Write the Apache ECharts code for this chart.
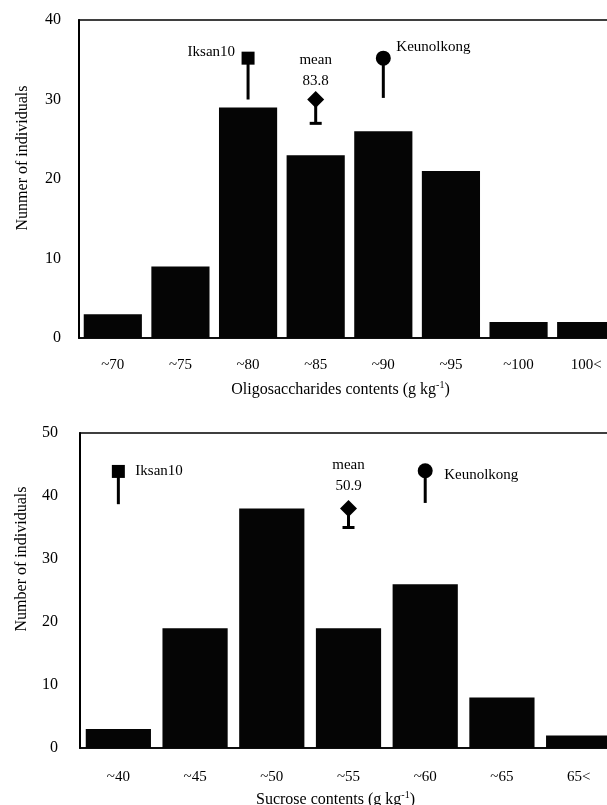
<!DOCTYPE html>
<html>
<head>
<meta charset="utf-8">
<script src="https://cdn.jsdelivr.net/npm/echarts@6/dist/echarts.min.js"></script>
<style>
html,body{margin:0;padding:0;background:#fff;overflow:hidden;}
#chart{width:640px;height:805px;}
</style>
</head>
<body>
<div id="chart"></div>
<script>
// ---- Data ----
const oligoCategories = ['~70', '~75', '~80', '~85', '~90', '~95', '~100', '100<'];
const oligoCounts = [3, 9, 29, 23, 26, 21, 2, 2];
const oligoMarkerNames = ['Iksan10', 'mean', 'Keunolkong'];
const oligoMarkerCategories = ['~80', '~85', '~90'];
const oligoMarkerTops = [35.2, 30, 35.2];
const oligoMarkerBases = [30, 27, 30.2];
const oligoMean = '83.8';
const oligoYTicks = [0, 10, 20, 30, 40];

const sucroseCategories = ['~40', '~45', '~50', '~55', '~60', '~65', '65<'];
const sucroseCounts = [3, 19, 38, 19, 26, 8, 2];
const sucroseMarkerNames = ['Iksan10', 'mean', 'Keunolkong'];
const sucroseMarkerCategories = ['~40', '~55', '~60'];
const sucroseMarkerTops = [43.9, 38, 44];
const sucroseMarkerBases = [38.7, 35, 38.9];
const sucroseMean = '50.9';
const sucroseYTicks = [0, 10, 20, 30, 40, 50];

// ---- Styling ----
const FONT = "'Liberation Serif', 'Times New Roman', serif";
const INK = '#000';

function markerData(cats, tops, bases) {
  return cats.map((c, i) => [c, tops[i], bases[i], i]);
}

function makeRenderItem(labelPlacement, names, meanText) {
  const kinds = ['square', 'diamond', 'circle'];
  return function (params, api) {
    const idx = api.value(3);
    const kind = kinds[idx];
    const cat = api.value(0);
    const pTop = api.coord([cat, api.value(1)]);
    const pBase = api.coord([cat, api.value(2)]);
    const cx = pTop[0], cy = pTop[1];
    const children = [];
    children.push({
      type: 'line',
      shape: { x1: cx, y1: cy, x2: cx, y2: pBase[1] },
      style: { stroke: INK, lineWidth: 3 }
    });
    if (kind === 'square') {
      children.push({ type: 'rect', shape: { x: cx - 6.5, y: cy - 6.5, width: 13, height: 13 }, style: { fill: INK } });
    } else if (kind === 'circle') {
      children.push({ type: 'circle', shape: { cx: cx, cy: cy, r: 7.5 }, style: { fill: INK } });
    } else {
      children.push({
        type: 'polygon',
        shape: { points: [[cx, cy - 8.5], [cx + 8.5, cy], [cx, cy + 8.5], [cx - 8.5, cy]] },
        style: { fill: INK }
      });
      children.push({
        type: 'line',
        shape: { x1: cx - 6, y1: pBase[1], x2: cx + 6, y2: pBase[1] },
        style: { stroke: INK, lineWidth: 3 }
      });
    }
    const pl = labelPlacement[kind];
    const name = names[params.dataIndex];
    const text = kind === 'diamond' ? name + '\n' + meanText : name;
    children.push({
      type: 'text',
      style: {
        text: text,
        x: cx + pl.dx,
        y: cy + pl.dy,
        align: pl.align,
        verticalAlign: pl.va,
        font: '15px ' + FONT,
        lineHeight: 21,
        fill: INK
      }
    });
    return { type: 'group', children: children };
  };
}

const topPlacement = {
  square: { dx: -13, dy: -6, align: 'right', va: 'middle' },
  circle: { dx: 13, dy: -11, align: 'left', va: 'middle' },
  diamond: { dx: 0, dy: -7.5, align: 'center', va: 'bottom' }
};
const bottomPlacement = {
  square: { dx: 17, dy: 0, align: 'left', va: 'middle' },
  circle: { dx: 19, dy: 4, align: 'left', va: 'middle' },
  diamond: { dx: 0, dy: -12.5, align: 'center', va: 'bottom' }
};

function xAxisCfg(gridIndex, cats, nameMain, labelMargin, nameGap, shiftLeft) {
  return {
    type: 'category',
    gridIndex: gridIndex,
    data: cats,
    axisLine: { show: true, lineStyle: { color: INK, width: 1.5 } },
    axisTick: { show: false },
    axisLabel: { color: INK, fontFamily: FONT, fontSize: 15, margin: labelMargin, interval: 0 },
    name: '{a|' + nameMain + ' (g kg}{s|-1}{a|)}',
    nameLocation: 'middle',
    nameGap: nameGap,
    nameTextStyle: {
      padding: [0, shiftLeft * 2, 0, 0],
      rich: {
        a: { fontFamily: FONT, fontSize: 16, color: INK },
        s: { fontFamily: FONT, fontSize: 10, color: INK, padding: [0, 0, 9, 0] }
      }
    }
  };
}

function yAxisCfg(gridIndex, ticks, margin) {
  return {
    type: 'value',
    gridIndex: gridIndex,
    min: ticks[0],
    max: ticks[ticks.length - 1],
    interval: ticks[1] - ticks[0],
    axisLine: { show: true, lineStyle: { color: INK, width: 2 } },
    axisTick: { show: false },
    splitLine: { show: false },
    axisLabel: { color: INK, fontFamily: FONT, fontSize: 16, margin: margin }
  };
}

const chart = echarts.init(document.getElementById('chart'), null, { renderer: 'canvas' });
chart.setOption({
  backgroundColor: '#fff',
  animation: false,
  grid: [
    { left: 79, top: 20, width: 541, height: 318, show: true, borderColor: INK, borderWidth: 1.5,
      backgroundColor: 'transparent', outerBoundsMode: 'none', containLabel: false },
    { left: 80, top: 433, width: 537, height: 315, show: true, borderColor: INK, borderWidth: 1.5,
      backgroundColor: 'transparent', outerBoundsMode: 'none', containLabel: false }
  ],
  xAxis: [
    xAxisCfg(0, oligoCategories, 'Oligosaccharides contents', 20, 42, 9),
    xAxisCfg(1, sucroseCategories, 'Sucrose contents', 22, 42, 13)
  ],
  yAxis: [
    yAxisCfg(0, oligoYTicks, 18),
    yAxisCfg(1, sucroseYTicks, 22)
  ],
  graphic: [
    { type: 'text', x: 23, y: 158, rotation: Math.PI / 2,
      style: { text: 'Nunmer of individuals', font: '16px ' + FONT, fill: INK, align: 'center', verticalAlign: 'middle' } },
    { type: 'text', x: 22, y: 559, rotation: Math.PI / 2,
      style: { text: 'Number of individuals', font: '16px ' + FONT, fill: INK, align: 'center', verticalAlign: 'middle' } }
  ],
  series: [
    { type: 'bar', xAxisIndex: 0, yAxisIndex: 0, data: oligoCounts, barCategoryGap: '14%',
      itemStyle: { color: '#050505' } },
    { type: 'bar', xAxisIndex: 1, yAxisIndex: 1, data: sucroseCounts, barCategoryGap: '15%',
      itemStyle: { color: '#050505' } },
    { type: 'custom', xAxisIndex: 0, yAxisIndex: 0,
      encode: { x: 0, y: [1, 2] },
      data: markerData(oligoMarkerCategories, oligoMarkerTops, oligoMarkerBases),
      renderItem: makeRenderItem(topPlacement, oligoMarkerNames, oligoMean), z: 5 },
    { type: 'custom', xAxisIndex: 1, yAxisIndex: 1,
      encode: { x: 0, y: [1, 2] },
      data: markerData(sucroseMarkerCategories, sucroseMarkerTops, sucroseMarkerBases),
      renderItem: makeRenderItem(bottomPlacement, sucroseMarkerNames, sucroseMean), z: 5 }
  ]
});
</script>
</body>
</html>
